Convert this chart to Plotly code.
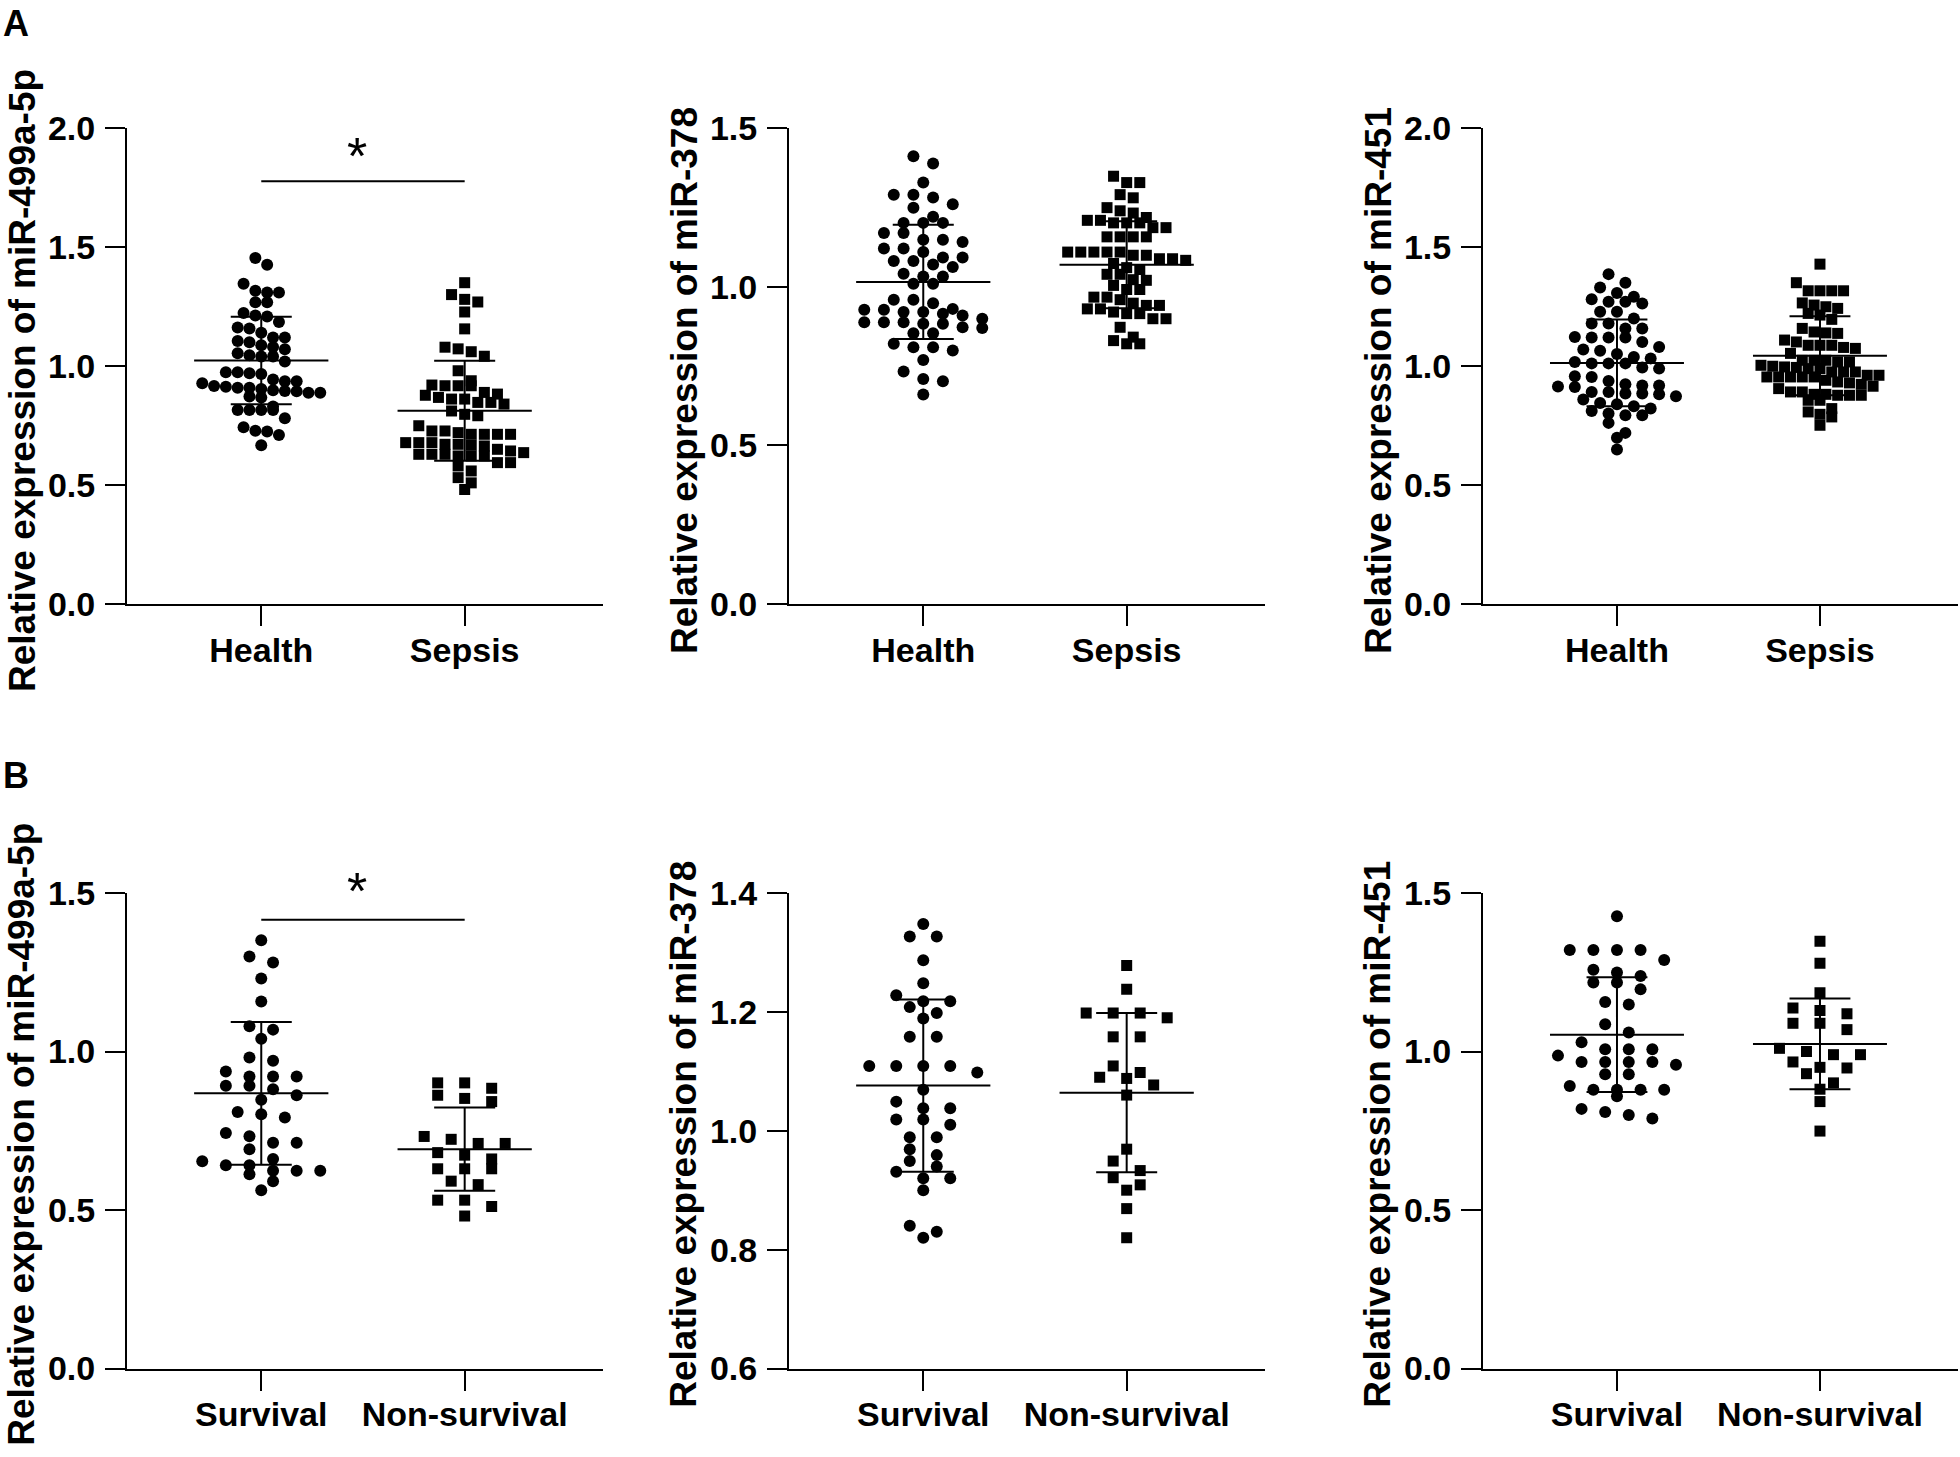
import plotly.graph_objects as go

# ---------------- data ----------------
cats_A = ["Health", "Sepsis"]
cats_B = ["Survival", "Non-survival"]

a1_health = [1.454, 1.425, 1.346, 1.309, 1.309, 1.316, 1.268, 1.268, 1.212, 1.208, 1.223, 1.158, 1.185, 1.162,
             1.12, 1.105, 1.14, 1.10, 1.12, 1.08, 1.087, 1.07, 1.04, 1.04, 1.054, 1.045, 1.019, 0.974, 0.966,
             0.974, 0.97, 0.936, 0.909, 0.943, 0.936, 0.928, 0.898, 0.895, 0.888, 0.916, 0.903, 0.913, 0.894,
             0.909, 0.888, 0.868, 0.83, 0.872, 0.815, 0.815, 0.815, 0.815, 0.78, 0.728, 0.725, 0.743, 0.71, 0.667]
a1_sepsis = [1.350, 1.300, 1.280, 1.269, 1.227, 1.156, 1.072, 1.041, 1.060, 1.079, 0.980, 0.938, 0.920, 0.917,
             0.917, 0.917, 0.889, 0.868, 0.861, 0.861, 0.840, 0.882, 0.877, 0.847, 0.847, 0.811, 0.797, 0.791,
             0.749, 0.713, 0.720, 0.713, 0.713, 0.713, 0.727, 0.727, 0.664, 0.650, 0.643, 0.629, 0.678, 0.671,
             0.678, 0.671, 0.678, 0.667, 0.629, 0.622, 0.622, 0.629, 0.622, 0.636, 0.594, 0.594, 0.580, 0.559,
             0.531, 0.509, 0.481]
a2_health = [1.411, 1.388, 1.328, 1.281, 1.290, 1.290, 1.249, 1.260, 1.220, 1.201, 1.201, 1.201, 1.169, 1.169,
             1.148, 1.148, 1.141, 1.120, 1.109, 1.120, 1.092, 1.081, 1.081, 1.092, 1.070, 1.062, 1.041, 1.032,
             1.032, 1.009, 1.009, 0.959, 0.959, 0.948, 0.927, 0.927, 0.930, 0.920, 0.920, 0.909, 0.915, 0.888,
             0.888, 0.888, 0.883, 0.883, 0.899, 0.870, 0.872, 0.853, 0.853, 0.820, 0.809, 0.809, 0.799, 0.769,
             0.733, 0.702, 0.709, 0.660]
a2_sepsis = [1.348, 1.328, 1.328, 1.280, 1.290, 1.249, 1.218, 1.232, 1.209, 1.201, 1.209, 1.239, 1.201, 1.201,
             1.186, 1.186, 1.157, 1.157, 1.157, 1.157, 1.109, 1.109, 1.099, 1.099, 1.109, 1.109, 1.109, 1.088,
             1.083, 1.088, 1.073, 1.060, 1.054, 1.039, 1.022, 1.039, 1.020, 1.004, 0.991, 0.991, 0.959, 0.948,
             0.967, 0.941, 0.967, 0.941, 0.930, 0.915, 0.915, 0.920, 0.930, 0.899, 0.899, 0.872, 0.841, 0.830,
             0.820, 0.820]
a3_health = [1.386, 1.350, 1.330, 1.280, 1.291, 1.307, 1.270, 1.263, 1.270, 1.228, 1.228, 1.200, 1.179, 1.179,
             1.158, 1.158, 1.120, 1.120, 1.120, 1.122, 1.101, 1.080, 1.069, 1.064, 1.050, 1.038, 1.032, 1.017,
             1.011, 1.011, 1.011, 0.989, 0.994, 0.957, 0.954, 0.937, 0.923, 0.891, 0.891, 0.884, 0.873, 0.914,
             0.918, 0.918, 0.912, 0.881, 0.884, 0.859, 0.845, 0.831, 0.821, 0.839, 0.811, 0.800, 0.793, 0.793,
             0.761, 0.719, 0.699, 0.649]
a3_sepsis = [1.428, 1.350, 1.316, 1.316, 1.316, 1.316, 1.265, 1.256, 1.249, 1.242, 1.221, 1.214, 1.196, 1.158,
             1.139, 1.143, 1.137, 1.109, 1.101, 1.087, 1.074, 1.087, 1.087, 1.078, 1.053, 1.024, 1.024, 1.024,
             1.017, 1.017, 1.003, 0.994, 0.975, 0.996, 0.999, 0.989, 0.975, 0.989, 0.975, 0.961, 0.954, 0.961,
             0.954, 0.954, 0.954, 0.954, 0.933, 0.923, 0.940, 0.915, 0.929, 0.905, 0.891, 0.877, 0.881, 0.877,
             0.877, 0.881, 0.891, 0.856, 0.856, 0.821, 0.807, 0.797, 0.786, 0.751]
b1_survival = [1.351, 1.300, 1.281, 1.230, 1.158, 1.080, 1.069, 1.040, 0.971, 0.981, 0.937, 0.921, 0.921, 0.921,
               0.881, 0.892, 0.892, 0.862, 0.848, 0.809, 0.802, 0.792, 0.733, 0.743, 0.712, 0.692, 0.712, 0.661,
               0.654, 0.624, 0.624, 0.613, 0.624, 0.641, 0.641, 0.591, 0.562]
b1_nonsurv = [0.901, 0.901, 0.884, 0.852, 0.842, 0.862, 0.732, 0.723, 0.710, 0.710, 0.681, 0.673, 0.661, 0.630,
              0.630, 0.630, 0.580, 0.591, 0.531, 0.511, 0.531, 0.481]
b2_survival = [1.348, 1.327, 1.327, 1.287, 1.248, 1.228, 1.218, 1.218, 1.208, 1.198, 1.189, 1.158, 1.158, 1.109,
               1.109, 1.098, 1.109, 1.109, 1.069, 1.038, 1.038, 1.049, 1.019, 1.019, 1.010, 0.989, 0.989, 0.959,
               0.969, 0.949, 0.940, 0.931, 0.920, 0.920, 0.900, 0.840, 0.830, 0.820]
b2_nonsurv = [1.278, 1.238, 1.198, 1.190, 1.198, 1.198, 1.158, 1.158, 1.109, 1.098, 1.088, 1.090, 1.077, 1.060,
              0.969, 0.949, 0.933, 0.921, 0.909, 0.900, 0.869, 0.820]
b3_survival = [1.427, 1.320, 1.320, 1.320, 1.320, 1.289, 1.258, 1.249, 1.238, 1.218, 1.218, 1.196, 1.148, 1.156,
               1.086, 1.060, 1.029, 1.007, 1.007, 1.007, 0.987, 0.967, 0.967, 0.967, 0.967, 0.958, 0.928, 0.928,
               0.891, 0.859, 0.879, 0.879, 0.879, 0.879, 0.819, 0.809, 0.800, 0.789]
b3_nonsurv = [1.348, 1.278, 1.185, 1.129, 1.137, 1.119, 1.089, 1.089, 1.069, 0.990, 1.000, 1.010, 0.990, 0.967,
              0.948, 0.950, 0.930, 0.901, 0.881, 0.842, 0.749]

# mean and SD of each group, as drawn in the reference
a1_mean, a1_sd = [1.023, 0.812], [0.184, 0.210]
a2_mean, a2_sd = [1.015, 1.069], [0.180, 0.137]
a3_mean, a3_sd = [1.013, 1.043], [0.182, 0.166]
b1_mean, b1_sd = [0.868, 0.692], [0.225, 0.131]
b2_mean, b2_sd = [1.076, 1.064], [0.145, 0.134]
b3_mean, b3_sd = [1.053, 1.024], [0.181, 0.143]

# significance bar level and asterisk level
a1_sig = [1.776, 1.905]
b1_sig = [1.416, 1.522]

titles = ["Relative expression of miR-499a-5p", "Relative expression of miR-378",
          "Relative expression of miR-451"]

# ---------------- layout constants ----------------
W, H = 1960, 1457
FONT = "Liberation Sans, Arial, sans-serif"
col_px = [(127, 603), (789, 1265), (1483, 1958)]
row_px = [(128, 604), (893, 1368.5)]
XR = [-0.66, 1.68]

panels = [
    dict(groups=[a1_health, a1_sepsis], cats=cats_A, mean=a1_mean, sd=a1_sd, yr=(0, 2.0), dt=0.5, title=titles[0], sig=a1_sig),
    dict(groups=[a2_health, a2_sepsis], cats=cats_A, mean=a2_mean, sd=a2_sd, yr=(0, 1.5), dt=0.5, title=titles[1], sig=None),
    dict(groups=[a3_health, a3_sepsis], cats=cats_A, mean=a3_mean, sd=a3_sd, yr=(0, 2.0), dt=0.5, title=titles[2], sig=None),
    dict(groups=[b1_survival, b1_nonsurv], cats=cats_B, mean=b1_mean, sd=b1_sd, yr=(0, 1.5), dt=0.5, title=titles[0], sig=b1_sig),
    dict(groups=[b2_survival, b2_nonsurv], cats=cats_B, mean=b2_mean, sd=b2_sd, yr=(0.6, 1.4), dt=0.2, title=titles[1], sig=None),
    dict(groups=[b3_survival, b3_nonsurv], cats=cats_B, mean=b3_mean, sd=b3_sd, yr=(0, 1.5), dt=0.5, title=titles[2], sig=None),
]


def swarm(values, px_y, px_x, bin_px=10.0, max_width=118.0, max_sp=27.0):
    """Prism-like row layout: group close values in rows, spread each row symmetrically."""
    order = sorted(range(len(values)), key=lambda i: -values[i])
    rows, cur, top = [], [], None
    for i in order:
        v = values[i]
        if cur and (top - v) * px_y > bin_px:
            rows.append(cur)
            cur = []
        if not cur:
            top = v
        cur.append(i)
    if cur:
        rows.append(cur)
    maxn = max(len(r) for r in rows)
    sp = min(max_sp, max_width / (maxn - 1)) if maxn > 1 else 0
    offs = [0.0] * len(values)
    for r in rows:
        n = len(r)
        for k, i in enumerate(r):
            offs[i] = (k - (n - 1) / 2) * sp / px_x
    return offs


fig = go.Figure()
layout = dict(width=W, height=H, margin=dict(l=0, r=0, t=0, b=0, pad=0, autoexpand=False),
              paper_bgcolor="white", plot_bgcolor="white", showlegend=False, template="none")
annotations, shapes = [], []

for k, p in enumerate(panels):
    idx = k + 1
    r, c = divmod(k, 3)
    x0, x1 = col_px[c]
    y0, y1 = row_px[r]
    px_x = (x1 - x0) / (XR[1] - XR[0])
    ylo, yhi = p["yr"]
    px_y = (y1 - y0) / (yhi - ylo)
    key = "" if idx == 1 else str(idx)
    xa, ya = f"x{key}", f"y{key}"
    for g, vals in enumerate(p["groups"]):
        offs = swarm(vals, px_y, px_x)
        fig.add_trace(go.Scatter(
            x=[g + o for o in offs], y=vals, mode="markers", xaxis=xa, yaxis=ya,
            marker=dict(symbol="circle" if g == 0 else "square", size=12 if g == 0 else 11,
                        color="black", line=dict(width=0)),
            hoverinfo="y"))
        m, s = p["mean"][g], p["sd"][g]
        lx = [g - 0.33, g + 0.33, None, g - 0.15, g + 0.15, None, g - 0.15, g + 0.15, None, g, g]
        ly = [m, m, None, m + s, m + s, None, m - s, m - s, None, m - s, m + s]
        fig.add_trace(go.Scatter(x=lx, y=ly, mode="lines", xaxis=xa, yaxis=ya,
                                 line=dict(color="black", width=2), hoverinfo="skip"))
    ticks = []
    t = ylo
    while t <= yhi + 1e-9:
        ticks.append(round(t, 3))
        t += p["dt"]
    layout[f"xaxis{key}"] = dict(
        domain=[x0 / W, x1 / W], range=XR, anchor=ya, tickmode="array", tickvals=[0, 1],
        ticktext=p["cats"], ticks="outside", ticklen=20, tickwidth=2, tickcolor="black",
        showline=True, linewidth=2, linecolor="black", showgrid=False, zeroline=False,
        ticklabelstandoff=-5, automargin=False,
        tickfont=dict(family=FONT, size=34, color="black", weight="bold"))
    layout[f"yaxis{key}"] = dict(
        domain=[1 - y1 / H, 1 - y0 / H], range=[ylo, yhi], anchor=xa, tickmode="array",
        tickvals=ticks, tickformat=".1f", ticks="outside", ticklen=20, tickwidth=2,
        tickcolor="black", showline=True, linewidth=2, linecolor="black", showgrid=False,
        zeroline=False, ticklabelstandoff=3, automargin=False,
        tickfont=dict(family=FONT, size=34, color="black", weight="bold"))
    annotations.append(dict(
        text=p["title"], textangle=-90, xref=f"{xa} domain", yref=f"{ya} domain", x=0, y=0.5,
        xanchor="center", yanchor="middle", xshift=-105, yshift=-15 if r == 0 else -4,
        showarrow=False, font=dict(family=FONT, size=37, color="black", weight="bold")))
    if p["sig"]:
        shapes.append(dict(type="line", xref=xa, yref=f"{ya} domain", x0=0, x1=1,
                           y0=(p["sig"][0] - ylo) / (yhi - ylo), y1=(p["sig"][0] - ylo) / (yhi - ylo),
                           line=dict(color="black", width=2)))
        annotations.append(dict(text="*", xref=xa, yref=f"{ya} domain", x=0.47,
                                y=(p["sig"][1] - ylo) / (yhi - ylo), showarrow=False,
                                xanchor="center", yanchor="middle", yshift=-5,
                                font=dict(family=FONT, size=52, color="black")))

annotations.append(dict(text="A", xref="paper", yref="paper", x=1 / W, y=1, yshift=-1, xanchor="left",
                        yanchor="top", showarrow=False,
                        font=dict(family=FONT, size=36, color="black", weight="bold")))
annotations.append(dict(text="B", xref="paper", yref="paper", x=1 / W, y=1 - 755 / H, yshift=2,
                        xanchor="left", yanchor="top", showarrow=False,
                        font=dict(family=FONT, size=36, color="black", weight="bold")))

layout["annotations"] = annotations
layout["shapes"] = shapes
fig.update_layout(**layout)
fig.write_html("out.html", config={"displayModeBar": False},
               post_script="document.body.style.margin='0px';document.body.style.padding='0px';")
